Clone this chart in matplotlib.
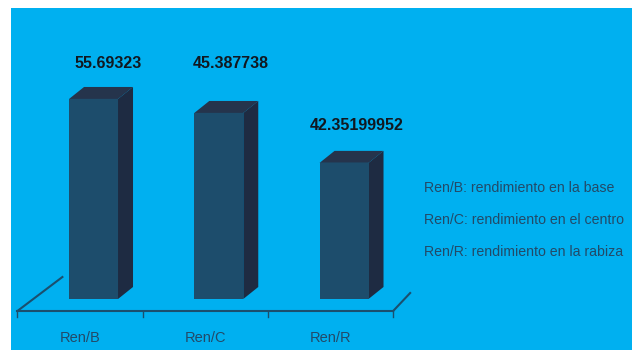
import numpy as np
import matplotlib
matplotlib.use("Agg")
import matplotlib.pyplot as plt
from matplotlib.patches import Polygon, Rectangle

plt.rcParams['font.family'] = ['Liberation Sans', 'DejaVu Sans']

# ---- data ----
categories = ["Ren/B", "Ren/C", "Ren/R"]
bar_heights = [55.7, 51.8, 37.9]          # drawn heights (as in the picture)
value_labels = ["55.69323", "45.387738", "42.35199952"]
legend_lines = ["Ren/B: rendimiento en la base",
                "Ren/C: rendimiento en el centro",
                "Ren/R: rendimiento en la rabiza"]

# ---- style ----
BG = "#00B0F0"
FRONT = "#1D4D6C"
SIDE = "#1E2B42"
TOP = "#25344C"
LINE = "#1B4F6E"
TXT = "#234A68"

W, H = 632, 350
fig = plt.figure(figsize=(W / 100, H / 100), dpi=100)
fig.patch.set_facecolor("white")
fig.patches.append(Rectangle((11 / W, 0), (W - 11) / W, (H - 8) / H,
                             transform=fig.transFigure, facecolor=BG,
                             edgecolor="none", zorder=-10))

ax = fig.add_axes([30.9 / W, 51 / H, 375.75 / W, 287.3 / H])
ax.set_zorder(5)
ax.set_xlim(-0.5, 2.5)
ax.set_ylim(0, 80)
ax.axis("off")


def off(dx, dy):
    o = ax.transData.transform((0, 0))
    d = ax.transData.inverted().transform(o + np.array([dx, dy]))
    return d[0], d[1]


x = np.arange(len(categories))
bw = 0.391
ax.bar(x, bar_heights, width=bw, color=FRONT, edgecolor="none", zorder=3)

ddx, ddy = off(15, 12)
for xi, h in zip(x, bar_heights):
    xl, xr = xi - bw / 2, xi + bw / 2
    ax.add_patch(Polygon([(xr, 0), (xr + ddx, ddy), (xr + ddx, h + ddy), (xr, h)],
                         closed=True, facecolor=SIDE, edgecolor="none", zorder=2,
                         clip_on=False))
    ax.add_patch(Polygon([(xl, h), (xr, h), (xr + ddx, h + ddy), (xl + ddx, h + ddy)],
                         closed=True, facecolor=TOP, edgecolor="none", zorder=2,
                         clip_on=False))

# floor
fdx, fdy = off(-13.5, -12)
x0, x1 = -0.5 + fdx, 2.5 + fdx
ax.plot([x0, x1], [fdy, fdy], color=LINE, lw=1.5, clip_on=False, zorder=1)
_, tdy = off(0, -6)
for b in [-0.5, 0.5, 1.5, 2.5]:
    ax.plot([b + fdx, b + fdx], [fdy, fdy + tdy], color=LINE, lw=1.0,
            clip_on=False, zorder=1)
lx, ly = off(45, 34)
ax.plot([x0, x0 + lx], [fdy, fdy + ly], color=LINE, lw=1.5, clip_on=False, zorder=1)
rx, ry = off(17, 18)
ax.plot([x1, x1 + rx], [fdy, fdy + ry], color=LINE, lw=1.5, clip_on=False, zorder=1)

# category labels
_, cly = off(0, -12 - 27)
for xi, c in zip(x, categories):
    ax.text(xi + fdx, cly, c, ha="center", va="center", fontsize=10.5,
            color=TXT, clip_on=False)

# value labels
label_dx_px = [14.5, 11.5, 13]
label_dy_px = [35, 49, 37]
for xi, h, s, ldx, ldy in zip(x, bar_heights, value_labels, label_dx_px, label_dy_px):
    ox, oy = off(ldx, ldy)
    ax.text(xi + ox, h + oy, s, ha="center", va="center", fontsize=11.5,
            fontweight="bold", color="#111820", clip_on=False)

# legend-like notes
for i, t in enumerate(legend_lines):
    fig.text(424 / W, 1 - (188 + 32 * i) / H, t, ha="left", va="center",
             fontsize=10.2, color=TXT)

fig.savefig("out.png", dpi=100)
